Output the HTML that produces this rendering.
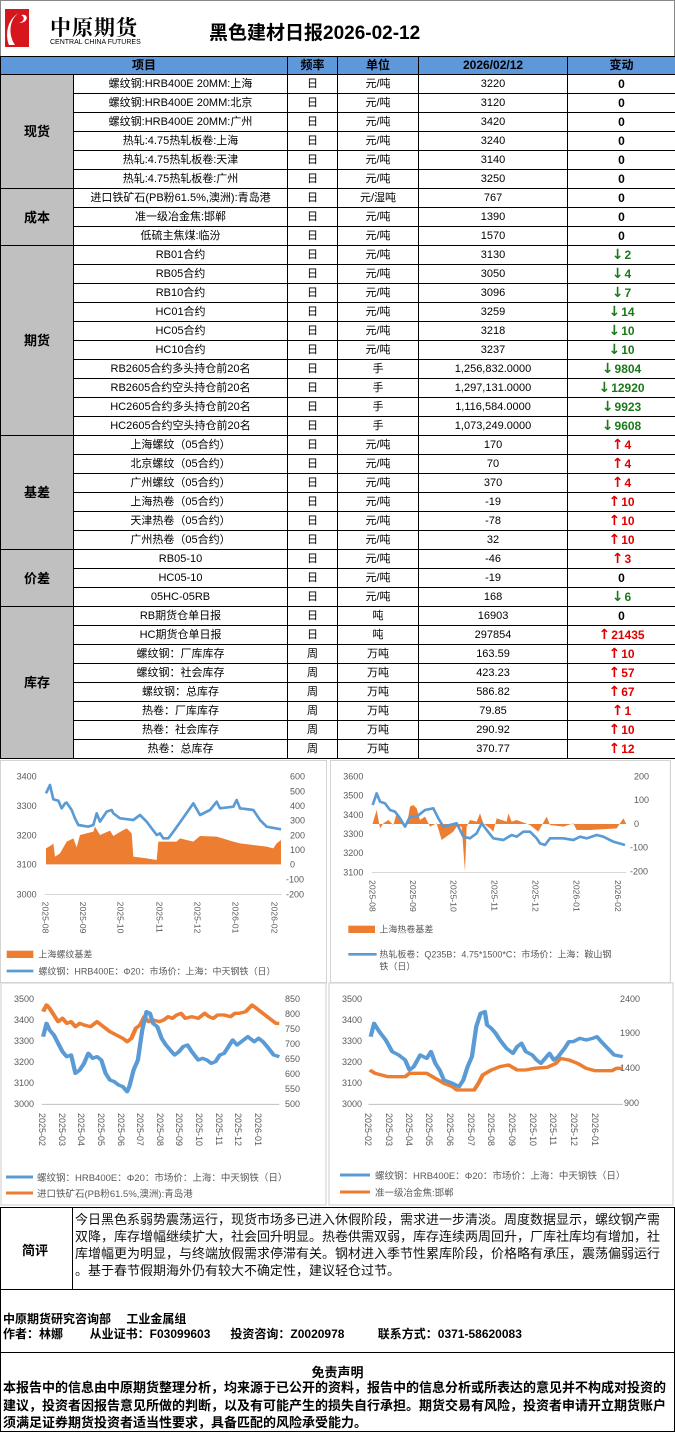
<!DOCTYPE html>
<html><head><meta charset="utf-8">
<style>
*{margin:0;padding:0;box-sizing:border-box}
body{width:675px;height:1432px;position:relative;background:#fff;font-family:"Liberation Sans","Noto Sans CJK SC",sans-serif;color:#000;overflow:hidden}
.abs{position:absolute}
table{border-collapse:collapse;table-layout:fixed;position:absolute;left:0;top:56px;width:675px}
td,th{border:1px solid #000;font-size:11px;text-align:center;height:19px;line-height:17px;white-space:nowrap;overflow:hidden;padding:0}
th{background:#5f97db;height:18px;font-weight:bold;font-size:12px}
td.s{background:#c0c0c0;font-weight:bold;font-size:13px}
td.d{color:#1a7a1a;font-weight:bold;font-size:12px}
td.u{color:#e00000;font-weight:bold;font-size:12px}
td.z{font-weight:bold;font-size:12px}
b.a{font-family:"DejaVu Sans",sans-serif;font-size:14px;font-weight:bold;margin-right:1px}
svg text{font-family:"Liberation Sans","Noto Sans CJK SC",sans-serif}
</style></head><body>
<div class="abs" style="left:0;top:0;width:675px;height:56px;border:1px solid #888;border-bottom:none"></div>
<svg class="abs" style="left:5px;top:9px" width="26" height="40"><rect x="0" y="0" width="24" height="38" fill="#d6161c"/><path d="M14 4 C4 10 3 26 10 36 L4 36 C0 26 2 10 14 4Z" fill="#fff"/><path d="M16 6 C24 4 24 14 14 14 C20 12 20 8 16 6Z" fill="#fff"/></svg>
<div class="abs" style="left:50px;top:12px;font-size:21px;font-weight:bold;letter-spacing:1px;font-family:'Noto Serif CJK SC',serif">中原期货</div>
<div class="abs" style="left:50px;top:39px;font-size:7px;letter-spacing:0">CENTRAL CHINA FUTURES</div>
<div class="abs" style="left:209px;top:18px;font-size:19px;font-weight:bold">黑色建材日报2026-02-12</div>

<table>
<colgroup><col style="width:73px"><col style="width:214px"><col style="width:50px"><col style="width:81px"><col style="width:149px"><col style="width:108px"></colgroup>
<tr><th colspan="2">项目</th><th>频率</th><th>单位</th><th>2026/02/12</th><th>变动</th></tr>
<tr><td class="s" rowspan="6">现货</td><td>螺纹钢:HRB400E 20MM:上海</td><td>日</td><td>元/吨</td><td>3220</td><td class="z">0</td></tr>
<tr><td>螺纹钢:HRB400E 20MM:北京</td><td>日</td><td>元/吨</td><td>3120</td><td class="z">0</td></tr>
<tr><td>螺纹钢:HRB400E 20MM:广州</td><td>日</td><td>元/吨</td><td>3420</td><td class="z">0</td></tr>
<tr><td>热轧:4.75热轧板卷:上海</td><td>日</td><td>元/吨</td><td>3240</td><td class="z">0</td></tr>
<tr><td>热轧:4.75热轧板卷:天津</td><td>日</td><td>元/吨</td><td>3140</td><td class="z">0</td></tr>
<tr><td>热轧:4.75热轧板卷:广州</td><td>日</td><td>元/吨</td><td>3250</td><td class="z">0</td></tr>
<tr><td class="s" rowspan="3">成本</td><td>进口铁矿石(PB粉61.5%,澳洲):青岛港</td><td>日</td><td>元/湿吨</td><td>767</td><td class="z">0</td></tr>
<tr><td>准一级冶金焦:邯郸</td><td>日</td><td>元/吨</td><td>1390</td><td class="z">0</td></tr>
<tr><td>低硫主焦煤:临汾</td><td>日</td><td>元/吨</td><td>1570</td><td class="z">0</td></tr>
<tr><td class="s" rowspan="10">期货</td><td>RB01合约</td><td>日</td><td>元/吨</td><td>3130</td><td class="d"><b class="a">↓</b>2</td></tr>
<tr><td>RB05合约</td><td>日</td><td>元/吨</td><td>3050</td><td class="d"><b class="a">↓</b>4</td></tr>
<tr><td>RB10合约</td><td>日</td><td>元/吨</td><td>3096</td><td class="d"><b class="a">↓</b>7</td></tr>
<tr><td>HC01合约</td><td>日</td><td>元/吨</td><td>3259</td><td class="d"><b class="a">↓</b>14</td></tr>
<tr><td>HC05合约</td><td>日</td><td>元/吨</td><td>3218</td><td class="d"><b class="a">↓</b>10</td></tr>
<tr><td>HC10合约</td><td>日</td><td>元/吨</td><td>3237</td><td class="d"><b class="a">↓</b>10</td></tr>
<tr><td>RB2605合约多头持仓前20名</td><td>日</td><td>手</td><td>1,256,832.0000</td><td class="d"><b class="a">↓</b>9804</td></tr>
<tr><td>RB2605合约空头持仓前20名</td><td>日</td><td>手</td><td>1,297,131.0000</td><td class="d"><b class="a">↓</b>12920</td></tr>
<tr><td>HC2605合约多头持仓前20名</td><td>日</td><td>手</td><td>1,116,584.0000</td><td class="d"><b class="a">↓</b>9923</td></tr>
<tr><td>HC2605合约空头持仓前20名</td><td>日</td><td>手</td><td>1,073,249.0000</td><td class="d"><b class="a">↓</b>9608</td></tr>
<tr><td class="s" rowspan="6">基差</td><td>上海螺纹（05合约）</td><td>日</td><td>元/吨</td><td>170</td><td class="u"><b class="a">↑</b>4</td></tr>
<tr><td>北京螺纹（05合约）</td><td>日</td><td>元/吨</td><td>70</td><td class="u"><b class="a">↑</b>4</td></tr>
<tr><td>广州螺纹（05合约）</td><td>日</td><td>元/吨</td><td>370</td><td class="u"><b class="a">↑</b>4</td></tr>
<tr><td>上海热卷（05合约）</td><td>日</td><td>元/吨</td><td>-19</td><td class="u"><b class="a">↑</b>10</td></tr>
<tr><td>天津热卷（05合约）</td><td>日</td><td>元/吨</td><td>-78</td><td class="u"><b class="a">↑</b>10</td></tr>
<tr><td>广州热卷（05合约）</td><td>日</td><td>元/吨</td><td>32</td><td class="u"><b class="a">↑</b>10</td></tr>
<tr><td class="s" rowspan="3">价差</td><td>RB05-10</td><td>日</td><td>元/吨</td><td>-46</td><td class="u"><b class="a">↑</b>3</td></tr>
<tr><td>HC05-10</td><td>日</td><td>元/吨</td><td>-19</td><td class="z">0</td></tr>
<tr><td>05HC-05RB</td><td>日</td><td>元/吨</td><td>168</td><td class="d"><b class="a">↓</b>6</td></tr>
<tr><td class="s" rowspan="8">库存</td><td>RB期货仓单日报</td><td>日</td><td>吨</td><td>16903</td><td class="z">0</td></tr>
<tr><td>HC期货仓单日报</td><td>日</td><td>吨</td><td>297854</td><td class="u"><b class="a">↑</b>21435</td></tr>
<tr><td>螺纹钢：厂库库存</td><td>周</td><td>万吨</td><td>163.59</td><td class="u"><b class="a">↑</b>10</td></tr>
<tr><td>螺纹钢：社会库存</td><td>周</td><td>万吨</td><td>423.23</td><td class="u"><b class="a">↑</b>57</td></tr>
<tr><td>螺纹钢：总库存</td><td>周</td><td>万吨</td><td>586.82</td><td class="u"><b class="a">↑</b>67</td></tr>
<tr><td>热卷：厂库库存</td><td>周</td><td>万吨</td><td>79.85</td><td class="u"><b class="a">↑</b>1</td></tr>
<tr><td>热卷：社会库存</td><td>周</td><td>万吨</td><td>290.92</td><td class="u"><b class="a">↑</b>10</td></tr>
<tr><td>热卷：总库存</td><td>周</td><td>万吨</td><td>370.77</td><td class="u"><b class="a">↑</b>12</td></tr>
</table>

<svg class="abs" style="left:0;top:760px" width="327" height="223" viewBox="0 0 981 669">
<rect x="1" y="1" width="979" height="667" fill="#fff" stroke="#ccc" stroke-width="3"/>
<g font-size="27" fill="#595959" text-anchor="end"><text x="110" y="59">3400</text><text x="110" y="147">3300</text><text x="110" y="235">3200</text><text x="110" y="323">3100</text><text x="110" y="412">3000</text></g>
<g font-size="27" fill="#595959"><text x="870" y="59">600</text><text x="870" y="103">500</text><text x="870" y="147">400</text><text x="870" y="191">300</text><text x="870" y="235">200</text><text x="870" y="279">100</text><text x="870" y="323">0</text><text x="858" y="367">-100</text><text x="858" y="412">-200</text></g>
<path d="M138 313 L138 265 L155 255 L160 250 L165 290 L180 280 L200 245 L220 235 L230 262 L240 225 L280 215 L285 200 L300 225 L330 212 L340 228 L370 210 L380 205 L395 220 L400 290 L440 295 L470 300 L475 245 L530 245 L540 235 L580 245 L600 228 L650 230 L700 245 L720 250 L760 255 L800 260 L820 265 L830 250 L843 240 L843 313Z" fill="#ed7d31"/>
<polyline points="138,100 150,75 160,118 175,122 185,145 195,130 200,128 215,150 225,175 235,195 265,200 280,195 290,160 300,185 320,155 335,150 340,160 360,175 400,180 420,165 440,185 470,225 480,220 490,235 505,235 520,215 545,180 580,130 600,165 630,150 650,125 660,145 700,140 710,120 720,145 760,150 780,180 800,200 843,208" fill="none" stroke="#5b9bd5" stroke-width="8" stroke-linejoin="round"/>
<line x1="135" y1="403" x2="845" y2="403" stroke="#bfbfbf" stroke-width="2"/>
<g font-size="26" fill="#595959">
<text transform="translate(128,425) rotate(90)">2025-08</text><text transform="translate(240,425) rotate(90)">2025-09</text><text transform="translate(352,425) rotate(90)">2025-10</text><text transform="translate(470,425) rotate(90)">2025-11</text><text transform="translate(583,425) rotate(90)">2025-12</text><text transform="translate(698,425) rotate(90)">2026-01</text><text transform="translate(815,425) rotate(90)">2026-02</text></g>
<rect x="20" y="572" width="80" height="22" fill="#ed7d31"/><text x="115" y="592" font-size="27" fill="#595959">上海螺纹基差</text>
<line x1="20" y1="633" x2="100" y2="633" stroke="#5b9bd5" stroke-width="8"/><text x="115" y="643" font-size="27" fill="#595959">螺纹钢：HRB400E：Φ20：市场价：上海：中天钢铁（日）</text>
</svg>

<svg class="abs" style="left:330px;top:760px" width="345" height="223" viewBox="0 0 1035 669">
<rect x="1" y="1" width="1020" height="667" fill="#fff" stroke="#ccc" stroke-width="3"/>
<g font-size="27" fill="#595959" text-anchor="end"><text x="100" y="59">3600</text><text x="100" y="116">3500</text><text x="100" y="174">3400</text><text x="100" y="231">3300</text><text x="100" y="288">3200</text><text x="100" y="346">3100</text></g>
<g font-size="27" fill="#595959"><text x="912" y="59">200</text><text x="912" y="129">100</text><text x="912" y="201">0</text><text x="900" y="272">-100</text><text x="900" y="344">-200</text></g>
<path d="M128 192 L128 190 L140 150 L150 205 L160 190 L175 180 L190 195 L200 160 L220 185 L230 200 L240 140 L250 135 L260 145 L270 180 L285 170 L300 200 L320 190 L335 240 L370 215 L380 200 L395 200 L405 335 L410 200 L420 180 L440 185 L450 160 L460 190 L480 205 L490 215 L500 175 L530 185 L535 160 L545 185 L560 180 L600 195 L625 215 L650 170 L660 195 L700 200 L730 190 L740 210 L780 210 L860 205 L880 175 L888 190 L888 192Z" fill="#ed7d31"/>
<polyline points="128,135 140,100 150,125 165,130 180,150 195,155 210,175 225,200 240,170 260,170 285,150 310,145 325,175 340,200 380,190 400,230 420,235 440,220 455,190 470,210 490,235 520,240 545,225 560,230 580,215 600,215 620,235 630,250 645,255 660,235 700,235 730,240 750,230 770,235 800,225 820,230 850,245 885,255" fill="none" stroke="#5b9bd5" stroke-width="8" stroke-linejoin="round"/>
<line x1="125" y1="337" x2="888" y2="337" stroke="#bfbfbf" stroke-width="2"/>
<g font-size="26" fill="#595959">
<text transform="translate(118,360) rotate(90)">2025-08</text><text transform="translate(240,360) rotate(90)">2025-09</text><text transform="translate(362,360) rotate(90)">2025-10</text><text transform="translate(485,360) rotate(90)">2025-11</text><text transform="translate(608,360) rotate(90)">2025-12</text><text transform="translate(730,360) rotate(90)">2026-01</text><text transform="translate(855,360) rotate(90)">2026-02</text></g>
<rect x="55" y="497" width="80" height="22" fill="#ed7d31"/><text x="148" y="517" font-size="27" fill="#595959">上海热卷基差</text>
<line x1="55" y1="583" x2="140" y2="583" stroke="#5b9bd5" stroke-width="8"/><text x="148" y="593" font-size="27" fill="#595959">热轧板卷：Q235B：4.75*1500*C：市场价：上海：鞍山钢</text><text x="148" y="628" font-size="27" fill="#595959">铁（日）</text>
</svg>

<svg class="abs" style="left:0;top:980px" width="675" height="228">
<rect x="1" y="3" width="325" height="222" fill="#fff" stroke="#ccc"/>
<rect x="329" y="3" width="344" height="222" fill="#fff" stroke="#ccc"/>
<g font-size="9" fill="#595959" text-anchor="end"><text x="34" y="22">3500</text><text x="34" y="43">3400</text><text x="34" y="64">3300</text><text x="34" y="85">3200</text><text x="34" y="106">3100</text><text x="34" y="127">3000</text>
<text x="362" y="22">3500</text><text x="362" y="43">3400</text><text x="362" y="64">3300</text><text x="362" y="85">3200</text><text x="362" y="106">3100</text><text x="362" y="127">3000</text></g>
<g font-size="9" fill="#595959"><text x="285" y="22">850</text><text x="285" y="37">800</text><text x="285" y="52">750</text><text x="285" y="67">700</text><text x="285" y="82">650</text><text x="285" y="97">600</text><text x="285" y="112">550</text><text x="285" y="127">500</text>
<text x="620" y="22">2400</text><text x="620" y="56">1900</text><text x="620" y="91">1400</text><text x="624" y="126">900</text></g>
<g transform="scale(0.431,0.3333)">
<line x1="97" y1="373" x2="648" y2="373" stroke="#bfbfbf" stroke-width="3"/>
<line x1="855" y1="373" x2="1445" y2="373" stroke="#bfbfbf" stroke-width="3"/>
<polyline points="100,95 108,75 115,85 125,105 135,125 145,115 155,130 165,125 175,140 185,130 195,135 210,140 225,125 235,135 245,145 255,155 270,165 285,175 295,185 305,175 315,145 325,135 335,110 345,125 355,120 370,125 380,120 390,110 400,115 410,105 420,100 430,115 445,110 460,115 475,100 485,110 495,115 505,105 520,105 535,110 545,100 555,100 570,95 585,75 595,85 605,95 620,110 630,120 640,130 648,130" fill="none" stroke="#ed7d31" stroke-width="10" stroke-linejoin="round"/>
<polyline points="100,170 108,130 115,150 125,165 135,190 145,215 155,230 165,225 175,280 185,270 195,250 205,220 215,235 225,230 235,240 245,280 255,300 265,305 275,315 285,320 295,335 300,320 310,270 320,240 330,150 340,95 348,100 355,130 365,140 375,175 385,195 395,210 405,225 415,215 425,200 435,195 445,215 460,240 470,235 480,240 490,250 500,245 510,225 520,220 530,200 540,180 550,195 560,185 575,170 590,185 600,175 610,185 620,200 635,225 648,230" fill="none" stroke="#5b9bd5" stroke-width="10" stroke-linejoin="round"/>
<polyline points="858,270 870,280 900,290 940,290 950,280 990,280 1010,295 1030,310 1050,320 1060,330 1100,330 1110,310 1120,285 1140,270 1160,260 1180,255 1200,270 1220,270 1240,265 1270,262 1290,250 1300,235 1320,240 1340,250 1360,265 1380,272 1420,272 1430,265 1445,265" fill="none" stroke="#ed7d31" stroke-width="10" stroke-linejoin="round"/>
<polyline points="860,170 868,130 880,155 895,180 910,215 925,225 940,240 950,270 960,260 975,225 990,235 1000,215 1010,250 1020,270 1030,300 1040,305 1050,310 1065,320 1075,300 1085,260 1095,230 1105,140 1115,100 1125,95 1130,135 1140,145 1150,160 1160,180 1175,205 1190,220 1200,200 1210,190 1220,215 1235,225 1245,240 1255,250 1265,235 1275,220 1285,240 1295,230 1310,205 1320,185 1330,185 1345,175 1360,180 1375,175 1385,170 1395,185 1410,205 1425,225 1445,230" fill="none" stroke="#5b9bd5" stroke-width="10" stroke-linejoin="round"/>
</g>
<g font-size="9" fill="#595959">
<text transform="translate(39,133) rotate(90)">2025-02</text><text transform="translate(59,133) rotate(90)">2025-03</text><text transform="translate(78,133) rotate(90)">2025-04</text><text transform="translate(98,133) rotate(90)">2025-05</text><text transform="translate(118,133) rotate(90)">2025-06</text><text transform="translate(137,133) rotate(90)">2025-07</text><text transform="translate(157,133) rotate(90)">2025-08</text><text transform="translate(176,133) rotate(90)">2025-09</text><text transform="translate(196,133) rotate(90)">2025-10</text><text transform="translate(216,133) rotate(90)">2025-11</text><text transform="translate(235,133) rotate(90)">2025-12</text><text transform="translate(255,133) rotate(90)">2026-01</text>
<text transform="translate(365,133) rotate(90)">2025-02</text><text transform="translate(386,133) rotate(90)">2025-03</text><text transform="translate(406,133) rotate(90)">2025-04</text><text transform="translate(426,133) rotate(90)">2025-05</text><text transform="translate(447,133) rotate(90)">2025-06</text><text transform="translate(468,133) rotate(90)">2025-07</text><text transform="translate(488,133) rotate(90)">2025-08</text><text transform="translate(509,133) rotate(90)">2025-09</text><text transform="translate(530,133) rotate(90)">2025-10</text><text transform="translate(550,133) rotate(90)">2025-11</text><text transform="translate(571,133) rotate(90)">2025-12</text><text transform="translate(592,133) rotate(90)">2026-01</text></g>
<line x1="6" y1="197" x2="33" y2="197" stroke="#5b9bd5" stroke-width="3"/><text x="37" y="201" font-size="9.5" fill="#595959">螺纹钢：HRB400E：Φ20：市场价：上海：中天钢铁（日）</text>
<line x1="6" y1="213" x2="33" y2="213" stroke="#ed7d31" stroke-width="3"/><text x="37" y="217" font-size="9.5" fill="#595959">进口铁矿石(PB粉61.5%,澳洲):青岛港</text>
<line x1="340" y1="195" x2="370" y2="195" stroke="#5b9bd5" stroke-width="3"/><text x="375" y="199" font-size="9.5" fill="#595959">螺纹钢：HRB400E：Φ20：市场价：上海：中天钢铁（日）</text>
<line x1="340" y1="212" x2="370" y2="212" stroke="#ed7d31" stroke-width="3"/><text x="375" y="216" font-size="9.5" fill="#595959">准一级冶金焦:邯郸</text>
</svg>

<div class="abs" style="left:0;top:1207px;width:675px;height:83px;border:1px solid #000"></div>
<div class="abs" style="left:72px;top:1207px;width:1px;height:83px;background:#000"></div>
<div class="abs" style="left:22px;top:1240px;font-size:13px;font-weight:bold">简评</div>
<div class="abs" style="left:75px;top:1211px;font-size:13px;line-height:17px;color:#111;white-space:nowrap">今日黑色系弱势震荡运行，现货市场多已进入休假阶段，需求进一步清淡。周度数据显示，螺纹钢产需<br>双降，库存增幅继续扩大，社会回升明显。热卷供需双弱，库存连续两周回升，厂库社库均有增加，社<br>库增幅更为明显，与终端放假需求停滞有关。钢材进入季节性累库阶段，价格略有承压，震荡偏弱运行<br>。基于春节假期海外仍有较大不确定性，建议轻仓过节。</div>
<div class="abs" style="left:0;top:1290px;width:675px;height:63px;border:1px solid #000;border-top:none"></div>
<div class="abs" style="left:3px;top:1310px;font-size:12px;font-weight:bold">中原期货研究咨询部　 工业金属组</div>
<div class="abs" style="left:3px;top:1325px;font-size:12px;font-weight:bold;white-space:pre">作者：林娜        从业证书：F03099603      投资咨询：Z0020978          联系方式：0371-58620083</div>
<div class="abs" style="left:0;top:1353px;width:675px;height:79px;border:1px solid #000;border-top:none"></div>
<div class="abs" style="left:0;top:1362px;width:675px;text-align:center;font-size:13px;font-weight:bold">免责声明</div>
<div class="abs" style="left:3px;top:1379px;font-size:13px;font-weight:bold;line-height:17.5px;white-space:nowrap">本报告中的信息由中原期货整理分析，均来源于已公开的资料，报告中的信息分析或所表达的意见并不构成对投资的<br>建议，投资者因报告意见所做的判断，以及有可能产生的损失自行承担。期货交易有风险，投资者申请开立期货账户<br>须满足证券期货投资者适当性要求，具备匹配的风险承受能力。</div>
</body></html>
